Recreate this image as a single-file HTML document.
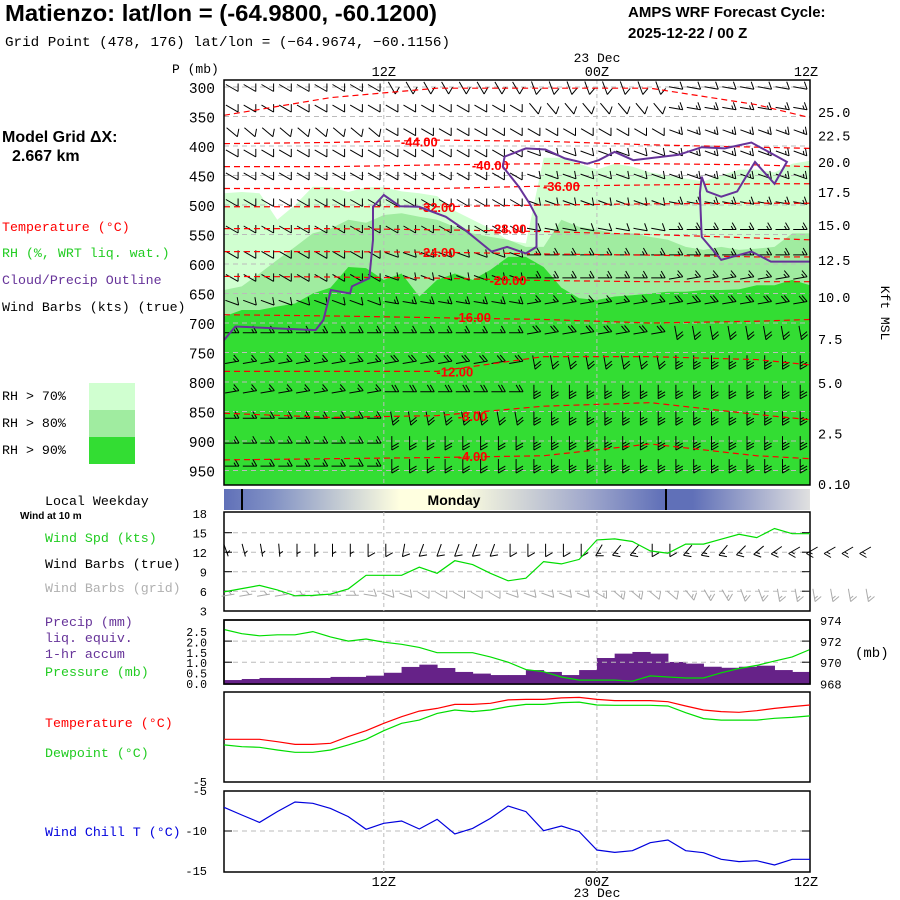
<!DOCTYPE html>
<html><head><meta charset="utf-8"><style>
html,body{margin:0;padding:0;background:#fff;}
svg{display:block;}
text{font-family:"Liberation Mono",monospace;}
.sans{font-family:"Liberation Sans",sans-serif;}
</style></head><body>
<svg id="chart" width="900" height="900" viewBox="0 0 900 900" xmlns="http://www.w3.org/2000/svg">
<rect x="0" y="0" width="900" height="900" fill="#fff"/>
<text class="sans" x="5" y="21" font-size="23" font-weight="bold" textLength="432" lengthAdjust="spacingAndGlyphs">Matienzo:  lat/lon = (-64.9800, -60.1200)</text>
<text x="5" y="46" font-size="14" textLength="445" lengthAdjust="spacingAndGlyphs">Grid Point (478, 176) lat/lon = (−64.9674, −60.1156)</text>
<text class="sans" x="628" y="17" font-size="15" font-weight="bold">AMPS WRF Forecast Cycle:</text>
<text class="sans" x="628" y="38" font-size="15" font-weight="bold">2025-12-22 / 00  Z</text>
<text class="sans" x="2" y="142" font-size="16" font-weight="bold">Model Grid ΔX:</text>
<text class="sans" x="12" y="161" font-size="16" font-weight="bold">2.667 km</text>
<text x="2" y="231" font-size="13.3" fill="#ff0000">Temperature (°C)</text>
<text x="2" y="257" font-size="13.3" fill="#22cc22">RH (%, WRT liq. wat.)</text>
<text x="2" y="284" font-size="13.3" fill="#663399">Cloud/Precip Outline</text>
<text x="2" y="311" font-size="13.3">Wind Barbs (kts) (true)</text>
<text x="2" y="400" font-size="13.3">RH &gt; 70%</text>
<text x="2" y="427" font-size="13.3">RH &gt; 80%</text>
<text x="2" y="454" font-size="13.3">RH &gt; 90%</text>
<rect x="89" y="383" width="46" height="27" fill="#d0ffd0"/>
<rect x="89" y="410" width="46" height="27" fill="#a0eca0"/>
<rect x="89" y="437" width="46" height="27" fill="#33dd33"/>
<text x="172" y="73" font-size="13">P (mb)</text>
<text x="597" y="62" font-size="13" text-anchor="middle">23 Dec</text>
<text x="881" y="313" font-size="13" text-anchor="middle" transform="rotate(90 881 313)">Kft MSL</text>
<text x="45" y="505" font-size="13.3">Local Weekday</text>
<text class="sans" x="20" y="519" font-size="10" font-weight="bold">Wind at 10 m</text>
<text x="45" y="542" font-size="13.3" fill="#22cc22">Wind Spd (kts)</text>
<text x="45" y="568" font-size="13.3">Wind Barbs (true)</text>
<text x="45" y="592" font-size="13.3" fill="#b0b0b0">Wind Barbs (grid)</text>
<text x="45" y="626" font-size="13.3" fill="#663399">Precip (mm)</text>
<text x="45" y="642" font-size="13.3" fill="#663399">liq. equiv.</text>
<text x="45" y="658" font-size="13.3" fill="#663399">1-hr accum</text>
<text x="45" y="676" font-size="13.3" fill="#22cc22">Pressure (mb)</text>
<text x="855" y="657" font-size="14">(mb)</text>
<text x="45" y="727" font-size="13.3" fill="#ff0000">Temperature (°C)</text>
<text x="45" y="757" font-size="13.3" fill="#22cc22">Dewpoint (°C)</text>
<text x="45" y="836" font-size="13.3" fill="#0000dd">Wind Chill T (°C)</text>
<text x="597" y="897" font-size="13" text-anchor="middle">23 Dec</text>
<g id="layer"></g>
</svg>
<script>
// ---------- data ----------
const hours = [0,1,2,3,4,5,6,7,8,9,10,11,12,13,14,15,16,17,18,19,20,21,22,23,24,25,26,27,28,29,30,31,32,33];
const timeTicks = ["12Z","00Z","12Z"];
const timeTickHours = [9,21,33];
const pLevels = [300,350,400,450,500,550,600,650,700,750,800,850,900,950];
const kftLabels = ["25.0","22.5","20.0","17.5","15.0","12.5","10.0","7.5","5.0","2.5","0.10"];
const kftPressures = [342,382,427,478,534,593,656,727,802,887,973];
const rh70Top = [480,478,480,525,500,469,470,478,470,470,477,480,485,510,525,540,560,565,420,420,430,440,430,435,445,450,455,460,450,440,440,445,430,425];
const rh80Top = [644,638,616,593,571,548,540,525,530,517,514,520,525,537,548,554,559,571,571,525,537,542,548,548,554,559,571,576,571,576,574,571,548,548];
const rh90Top = [689,678,678,672,667,650,640,605,607,627,616,655,627,616,627,610,588,588,605,640,658,661,655,653,650,647,647,644,644,643,636,636,627,636];
const contourHours = [0,6,12,18,24,30,33];
const contourLevels = [-4,-8,-12,-16,-20,-24,-28,-32,-36,-40,-44,-48];
const cM4 = [932,930,928,925,905,925,930];
const cM8 = [853,860,857,841,835,855,864];
const cM12 = [782,782,782,757,757,762,771];
const cM16 = [686,688,691,694,700,697,694];
const cM20 = [621,622,624,628,630,630,630];
const cM24 = [579,579,580,583,585,588,588];
const cM28 = [540,540,542,545,550,556,559];
const cM32 = [503,503,503,500,498,497,497];
const cM36 = [472,472,472,468,466,464,464];
const cM40 = [435,435,432,430,430,432,435];
const cM44 = [396,394,390,392,398,402,404];
const cM48 = [348,318,302,302,302,330,352];
const contourLabelHours = [14,14,13,14,16,12,16,12,19,15,11,-1];
const contourLabelP = [925,858,782,690,627,580,540,503,468,432,392,0];
const cloudHours = [0,0.64,5.16,5.6,6.02,7.1,7.2,8.18,8.39,8.39,9.0,9.9,10.98,12.49,13.56,15.07,15.94,17.0,17.6,17.6,17.2,16.6,15.7,15.8,17.0,18.1,19.2,20.46,21.1,22.0,23.05,25.6,26.9,28.2,29.7,31.7,31.0,29.9,28.9,28.0,27.2,26.9,26.8,26.9,28.0,29.7,30.8,33];
const cloudP = [729,706,712,695,644,650,638,624,559,503,483,502,503,520,542,579,571,582,571,520,497,469,435,418,404,406,421,430,424,410,424,415,402,404,394,427,464,427,477,486,477,452,480,554,593,579,596,596];
const barbLevels = [305,340,380,416,455,500,545,588,627,669,720,770,820,865,907,946];
// per level, 4 time blocks (h0-8, h9-16, h17-24, h25-33)
const barbDir = [[120,150,160,100],[120,120,140,100],[130,120,120,110],[120,120,110,110],[120,120,110,110],[120,120,110,100],[120,120,100,90],[120,110,90,90],[120,110,90,80],[110,100,80,80],[90,90,80,170],[80,80,170,180],[80,90,180,180],[90,170,180,180],[90,180,180,180],[90,180,180,180]];
const barbSpd = [[10,10,10,10],[10,10,10,15],[10,10,10,15],[10,10,10,15],[10,10,10,15],[10,10,10,15],[10,10,10,15],[10,10,15,15],[10,10,15,15],[10,15,15,20],[15,15,20,20],[15,20,20,25],[15,20,25,25],[15,20,25,25],[15,20,25,25],[15,20,25,25]];
const windSpd = [5.9,6.4,6.9,6.2,5.3,5.35,5.55,6.35,8.45,8.45,8.45,9.7,8.75,10.7,10.1,8.75,7.6,8.0,10.55,10.2,10.9,13.9,14.05,13.65,12.2,11.85,13.25,13.25,14.0,14.75,14.25,15.65,14.85,14.85];
const sfcHours = [0,1,2,3,4,5,6,7,8,9,10,11,12,13,14,15,16,17,18,19,20,21,22,23,24,25,26,27,28,29,30,31,32,33,34,35,36];
const sfcDir = [160,165,170,175,180,180,180,180,180,180,190,200,200,200,200,200,180,180,180,180,180,210,220,220,180,180,220,220,220,225,230,235,240,240,240,240,240];
const sfcSpd = [6,6,6,6,5,5,6,6,8,8,8,10,9,10,10,9,8,8,10,10,11,14,14,14,12,12,13,13,14,15,14,15,15,15,15,15,15];
const gridDir = [80,80,80,80,80,80,90,90,100,110,110,120,120,120,120,120,110,110,110,110,110,120,130,130,130,130,140,150,150,160,160,170,170,170,170,170,170];
const windTickLabels = ["18","15","12","9","6","3"];
const windTickVals = [18,15,12,9,6,3];
const precip = [0.19,0.24,0.29,0.29,0.29,0.29,0.34,0.34,0.40,0.54,0.82,0.93,0.77,0.58,0.50,0.43,0.43,0.67,0.58,0.43,0.67,1.25,1.46,1.54,1.46,1.06,0.98,0.83,0.78,0.83,0.88,0.67,0.58];
const pressure = [973.1,972.7,972.5,972.6,972.6,972.9,972.4,972.0,972.2,971.9,971.7,971.4,970.9,970.9,970.9,970.5,970.0,969.3,969.1,968.6,968.3,968.3,968.3,968.2,968.7,968.6,968.5,968.5,969.0,969.4,969.7,970.1,970.5,971.2];
const precipTickLabels = ["2.5","2.0","1.5","1.0","0.5","0.0"];
const precipTickVals = [2.5,2.0,1.5,1.0,0.5,0.0];
const presTickLabels = ["974","972","970","968"];
const presTickVals = [974,972,970,968];
const temperature = [-2.63,-2.63,-2.63,-2.76,-2.91,-2.91,-2.85,-2.48,-2.15,-1.74,-1.37,-1.06,-0.91,-0.69,-0.69,-0.63,-0.44,-0.41,-0.41,-0.33,-0.30,-0.41,-0.48,-0.48,-0.48,-0.54,-0.78,-1.0,-1.09,-1.13,-1.04,-0.91,-0.81,-0.72];
const dewpoint = [-2.94,-3.04,-3.07,-3.22,-3.35,-3.35,-3.22,-2.94,-2.63,-2.15,-1.74,-1.56,-1.19,-1.0,-1.09,-1.0,-0.81,-0.69,-0.69,-0.59,-0.56,-0.72,-0.74,-0.74,-0.74,-0.78,-1.15,-1.48,-1.56,-1.56,-1.56,-1.46,-1.41,-1.33];
const windChill = [-7.04,-8.0,-8.92,-7.58,-6.38,-6.54,-7.17,-8.2,-9.79,-9.04,-8.75,-9.75,-8.54,-10.38,-9.67,-8.42,-6.88,-7.58,-9.96,-9.38,-10.08,-12.38,-12.67,-12.46,-11.46,-11.13,-12.46,-12.71,-13.54,-13.83,-13.71,-14.25,-13.54,-13.54];
const wcTickLabels = ["-5","-10","-15"];
const wcTickVals = [-5,-10,-15];

// ---------- scales ----------
const X0=224, X1=810;
const xS = h => X0 + h*(X1-X0)/33;
const pS = p => 87 + (p-300)*0.59;
const wS = v => 532.7 + (15-v)*6.5;
const prS = v => 684 - v*20.8;
const mbS = v => 620 + (974-v)*10.55;
const tS = v => 692 - v*18;
const wcS = v => 791 + (-5-v)*8;

const NS="http://www.w3.org/2000/svg";
const layer=document.getElementById('layer');
function mk(tag,attrs,parent){const e=document.createElementNS(NS,tag);for(const k in attrs)e.setAttribute(k,attrs[k]);(parent||layer).appendChild(e);return e;}
function txt(x,y,s,attrs,parent){const e=mk('text',Object.assign({x:x,y:y,'font-size':13},attrs||{}),parent);e.textContent=s;return e;}

// ---------- main cross-section ----------
const main=mk('g',{});


const clip=mk('clipPath',{id:'mainclip'},main);
mk('rect',{x:X0,y:80,width:X1-X0,height:405},clip);
const mg=mk('g',{'clip-path':'url(#mainclip)'},main);
function fillArea(arr,color,name){
  let d='M'+xS(0)+',490';
  hours.forEach((h,i)=>{d+=' L'+xS(h)+','+pS(arr[i]);});
  d+=' L'+xS(33)+',490 Z';
  const e=mk('path',{d:d,fill:color},mg);
  
  
}
fillArea(rh70Top,'#d0ffd0','rh70-area');
fillArea(rh80Top,'#a0eca0','rh80-area');
fillArea(rh90Top,'#33dd33','rh90-area');
pLevels.forEach(p=>{
  const e=mk('line',{x1:X0,x2:X1,y1:pS(p),y2:pS(p),stroke:'#bbbbbb','stroke-dasharray':'5,4','stroke-width':1},mg);
  
  
});
[9,21].forEach(h=>{
  const e=mk('line',{x1:xS(h),x2:xS(h),y1:80,y2:485,stroke:'#bbbbbb','stroke-dasharray':'4,3'},mg);
  
  
});
// barbs
function barb(parent,x,y,dir,spd,color,len){
  len=len||14;
  const r=dir*Math.PI/180;
  const ux=Math.sin(r), uy=-Math.cos(r);
  const sx0=x-ux*len/2, sy0=y-uy*len/2;
  const ex=sx0+ux*len, ey=sy0+uy*len;
  let d='M'+sx0.toFixed(1)+','+sy0.toFixed(1)+' L'+ex.toFixed(1)+','+ey.toFixed(1);
  const br=r-Math.PI*2/3;
  const bx=Math.sin(br), by=-Math.cos(br);
  let s=Math.round(spd/5)*5, pos=0;
  while(s>=10){const sx=ex-ux*pos*3, sy=ey-uy*pos*3;d+=' M'+sx.toFixed(1)+','+sy.toFixed(1)+' l'+(bx*8).toFixed(1)+','+(by*8).toFixed(1);s-=10;pos++;}
  if(s>=5){if(pos===0)pos=1;const sx=ex-ux*pos*3, sy=ey-uy*pos*3;d+=' M'+sx.toFixed(1)+','+sy.toFixed(1)+' l'+(bx*4).toFixed(1)+','+(by*4).toFixed(1);}
  const e=mk('path',{d:d,stroke:color,fill:'none','stroke-width':1},parent);
  
  
}
const blk = h => h<=8?0:(h<=16?1:(h<=24?2:3));
barbLevels.forEach((p,li)=>{
  hours.forEach(h=>{ barb(mg,xS(h)+8,pS(p)-2,barbDir[li][blk(h)],barbSpd[li][blk(h)],'#000'); });
});
// contours
const contours=[cM4,cM8,cM12,cM16,cM20,cM24,cM28,cM32,cM36,cM40,cM44,cM48];
contours.forEach((arr,ci)=>{
  let d='';
  contourHours.forEach((h,i)=>{d+=(i?' L':'M')+xS(h)+','+pS(arr[i]);});
  const e=mk('path',{d:d,stroke:'#ff0000',fill:'none','stroke-width':1.2,'stroke-dasharray':'6,4'},mg);
  
  
  if(contourLabelHours[ci]>=0){
    const t=txt(xS(contourLabelHours[ci]),pS(contourLabelP[ci])+5,contourLevels[ci].toFixed(2),{'font-size':13,'font-weight':'bold',fill:'#ff0000','text-anchor':'middle','class':'sans'},mg);
    
    
  }
});
// cloud outline
{
  let d='';
  cloudHours.forEach((h,i)=>{d+=(i?' L':'M')+xS(h).toFixed(1)+','+pS(cloudP[i]).toFixed(1);});
  const e=mk('path',{d:d,stroke:'#663399',fill:'none','stroke-width':2},mg);
  
  
}
{const e=mk('rect',{x:X0,y:80,width:X1-X0,height:405,fill:'none',stroke:'#000','stroke-width':1.5},main);

}
pLevels.forEach(p=>{
  const t=txt(215,pS(p)+6,String(p),{'font-size':14.5,'text-anchor':'end'});
  
  
});
kftLabels.forEach((s,i)=>{
  const t=txt(818,pS(kftPressures[i])+5,s,{'font-size':13.5});
  
  
});
timeTicks.forEach((s,i)=>{
  const x=xS(timeTickHours[i]);
  const t1=txt(i===2?x-4:x,76,s,{'font-size':13.5,'text-anchor':'middle'});
  
  
  const t2=txt(i===2?x-4:x,886,s,{'font-size':13.5,'text-anchor':'middle'});
  
  
});

// ---------- weekday bar ----------
{
  const defs=mk('defs',{});
  const g=mk('linearGradient',{id:'daygrad',x1:'0',x2:'1',y1:'0',y2:'0'},defs);
  [[0,'#6070b8'],[0.08,'#8090c4'],[0.3,'#ffffe0'],[0.4,'#ffffe0'],[0.62,'#a0a8cc'],[0.75,'#6070b8'],[0.8,'#6070b8'],[1,'#e0e0e0']].forEach(s=>mk('stop',{offset:s[0],'stop-color':s[1]},g));
  const r=mk('rect',{x:X0,y:489,width:X1-X0,height:21,fill:'url(#daygrad)'});
  
  
  [242,666].forEach(x=>{const l=mk('line',{x1:x,x2:x,y1:489,y2:510,stroke:'#000','stroke-width':2});
    
    });
  const t=txt(454,505,'Monday',{'font-size':14,'font-weight':'bold','text-anchor':'middle','class':'sans'});
  
  
}

// ---------- generic panel helper ----------
function panel(y0,y1,name){
  const e=mk('rect',{x:X0,y:y0,width:X1-X0,height:y1-y0,fill:'none',stroke:'#000','stroke-width':1.5});
  
  
  [9,21].forEach(h=>{const l=mk('line',{x1:xS(h),x2:xS(h),y1:y0,y2:y1,stroke:'#bbbbbb','stroke-dasharray':'4,3'});
    
    });
}
function hgrid(y,tick){
  const l=mk('line',{x1:X0,x2:X1,y1:y,y2:y,stroke:'#bbbbbb','stroke-dasharray':'5,4'});
  
  
  if(tick){mk('line',{x1:X0,x2:X0+8,y1:y,y2:y,stroke:'#000'});mk('line',{x1:X1-8,x2:X1,y1:y,y2:y,stroke:'#000'});}
}
function line(vals,sc,color,name,w){
  let d='';
  hours.forEach((h,i)=>{d+=(i?' L':'M')+xS(h).toFixed(1)+','+sc(vals[i]).toFixed(1);});
  const e=mk('path',{d:d,stroke:color,fill:'none','stroke-width':w||1.2});
  
  
}

// wind panel
panel(512,611,'wind-panel');
windTickVals.forEach((v,i)=>{
  if(v>3&&v<18)hgrid(wS(v),true);
  const t=txt(207,wS(v)+5,windTickLabels[i],{'font-size':12,'text-anchor':'end'});
  
  
});
sfcHours.forEach((h,i)=>{
  barb(layer,xS(h)+2,wS(12)-2,sfcDir[i],sfcSpd[i],'#000',13);
  barb(layer,xS(h)+4,wS(6)+4,gridDir[i],sfcSpd[i],'#aaaaaa',13);
});
line(windSpd,wS,'#00dd00','wind-speed-line');

// precip / pressure panel
panel(620,684,'precip-panel');
precip.forEach((v,i)=>{
  const b=mk('rect',{x:xS(hours[i]),y:prS(v),width:xS(1)-xS(0)+0.5,height:684-prS(v),fill:'#662288'});
  
  
});
[972,970].forEach(v=>hgrid(mbS(v),true));
line(pressure,mbS,'#00dd00','pressure-line');
precipTickVals.forEach((v,i)=>{
  const t=txt(207,prS(v)+4,precipTickLabels[i],{'font-size':11.5,'text-anchor':'end'});
  
  
});
presTickVals.forEach((v,i)=>{
  const t=txt(820,mbS(v)+5,presTickLabels[i],{'font-size':12});
  
  
});
mk('rect',{x:X0,y:620,width:X1-X0,height:64,fill:'none',stroke:'#000','stroke-width':1.5});

// temperature panel
panel(692,782,'temperature-panel');
line(temperature,tS,'#ff0000','temperature-line');
line(dewpoint,tS,'#00dd00','dewpoint-line');
{const t=txt(207,786,'-5',{'font-size':12,'text-anchor':'end'});

}

// wind chill panel
panel(791,872,'wind-chill-panel');
hgrid(wcS(-10),true);
line(windChill,wcS,'#0000dd','wind-chill-line');
wcTickVals.forEach((v,i)=>{
  const t=txt(207,wcS(v)+4,wcTickLabels[i],{'font-size':12,'text-anchor':'end'});
  
  
});
</script>
</body></html>
